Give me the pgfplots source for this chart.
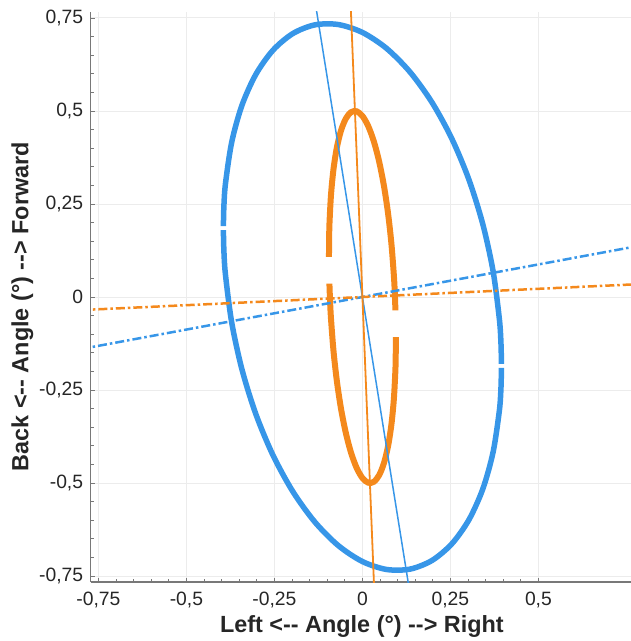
\documentclass[border=0pt]{standalone}
\usepackage{pgfplots}
\pgfplotsset{compat=1.18}
\usepackage{fontspec}
\setmainfont{Liberation Sans}
\definecolor{cblue}{RGB}{55,150,232}
\definecolor{corange}{RGB}{244,137,28}
\definecolor{spine}{RGB}{120,120,120}
\definecolor{gridc}{RGB}{236,236,236}
\begin{document}
\begin{tikzpicture}
\begin{axis}[
  scale only axis,
  width=540.3pt, height=570pt,
  xmin=-0.772, xmax=0.763,
  ymin=-0.766, ymax=0.766,
  axis x line=bottom, axis y line=left,
  axis line style={spine, line width=1.3pt, -},
  xtick={-0.75,-0.5,-0.25,0,0.25,0.5},
  ytick={-0.75,-0.5,-0.25,0,0.25,0.5,0.75},
  minor tick num=4,
  tick align=inside,
  major tick length=4pt, minor tick length=3pt,
  tick style={spine, line width=0.8pt},
  grid=major,
  major grid style={gridc, line width=0.9pt},
  /pgf/number format/use comma,
  /pgf/number format/assume math mode=true,
  ticklabel style={font=\fontsize{19.3}{22}\selectfont, text=black!85},
  xticklabel style={anchor=north, inner sep=0pt, yshift=-9.7pt},
  yticklabel style={anchor=east, inner sep=0pt, xshift=-7.4pt},
  every axis x label/.style={at={(axis description cs:0.502,-0.0889)}, anchor=base},
  every axis y label/.style={at={(axis description cs:-0.1155,0.483)}, rotate=90, anchor=base},
  label style={font=\fontsize{23.4}{27}\selectfont\bfseries, text=black!85},
  xlabel={Left <{-}{-} Angle (°) {-}{-}> Right},
  ylabel={Back <{-}{-} Angle (°) {-}{-}> Forward},
  clip=true,
]
\coordinate (SW) at (rel axis cs:0,0);
\coordinate (NE) at (rel axis cs:1,1);
% blue ellipse
\addplot[cblue, line width=5.5pt, smooth] coordinates {
(0.395,-0.1797) (0.3935,-0.1223) (0.3890,-0.0588) (0.3712,0.0694) (0.3421,0.1953)
(0.3026,0.3153) (0.2539,0.4257) (0.1975,0.5232) (0.1351,0.6048) (0.0686,0.6681)
(0,0.711) (-0.0686,0.7323) (-0.1351,0.7314) (-0.1975,0.7082) (-0.2539,0.6635)
(-0.3026,0.5987) (-0.3421,0.5157) (-0.3712,0.4170) (-0.3890,0.3056) (-0.3935,0.2463)
(-0.395,0.1903)};
\addplot[cblue, line width=5.5pt, smooth] coordinates {
(-0.395,0.1797) (-0.3935,0.1223) (-0.3890,0.0588) (-0.3712,-0.0694) (-0.3421,-0.1953)
(-0.3026,-0.3153) (-0.2539,-0.4257) (-0.1975,-0.5232) (-0.1351,-0.6048) (-0.0686,-0.6681)
(0,-0.711) (0.0686,-0.7323) (0.1351,-0.7314) (0.1975,-0.7082) (0.2539,-0.6635)
(0.3026,-0.5987) (0.3421,-0.5157) (0.3712,-0.4170) (0.3890,-0.3056) (0.3935,-0.2463)
(0.395,-0.1903)};
% orange ellipse
\addplot[corange, line width=6pt, smooth] coordinates {
(0.0938,-0.0360) (0.0918,0.0148) (0.0893,0.0583) (0.0823,0.1437) (0.0728,0.2247)
(0.0611,0.2988) (0.0475,0.3639) (0.0325,0.4180) (0.0165,0.4592) (0,0.4866)
(-0.0165,0.4992) (-0.0325,0.4966) (-0.0475,0.4789) (-0.0611,0.4466) (-0.0728,0.4009)
(-0.0823,0.3429) (-0.0893,0.2745) (-0.0936,0.1978) (-0.0946,0.1570) (-0.095,0.115)
(-0.095,0.1077)};
\addplot[corange, line width=6pt, smooth] coordinates {
(-0.0938,0.0360) (-0.0918,-0.0148) (-0.0893,-0.0583) (-0.0823,-0.1437) (-0.0728,-0.2247)
(-0.0611,-0.2988) (-0.0475,-0.3639) (-0.0325,-0.4180) (-0.0165,-0.4592) (0,-0.4866)
(0.0165,-0.4992) (0.0325,-0.4966) (0.0475,-0.4789) (0.0611,-0.4466) (0.0728,-0.4009)
(0.0823,-0.3429) (0.0893,-0.2745) (0.0936,-0.1978) (0.0946,-0.1570) (0.095,-0.115)
(0.095,-0.1077)};
% dash-dot lines
\addplot[cblue, line width=2.5pt, dash pattern=on 9pt off 3pt on 2.5pt off 3pt] coordinates {(-0.8,-0.140) (0.8,0.140)};
\addplot[corange, line width=2.5pt, dash pattern=on 9pt off 3pt on 2.5pt off 3pt] coordinates {(-0.8,-0.0352) (0.8,0.0352)};
% solid thin lines
\addplot[cblue, line width=1.5pt] coordinates {(-0.14,0.826) (0.14,-0.826)};
\addplot[corange, line width=1.8pt] coordinates {(-0.034,0.799) (0.034,-0.799)};
\end{axis}
\pgfresetboundingbox
\path ([shift={(-90.7pt,-59pt)}]SW) rectangle ([shift={(0pt,12pt)}]NE);
\end{tikzpicture}
\end{document}
